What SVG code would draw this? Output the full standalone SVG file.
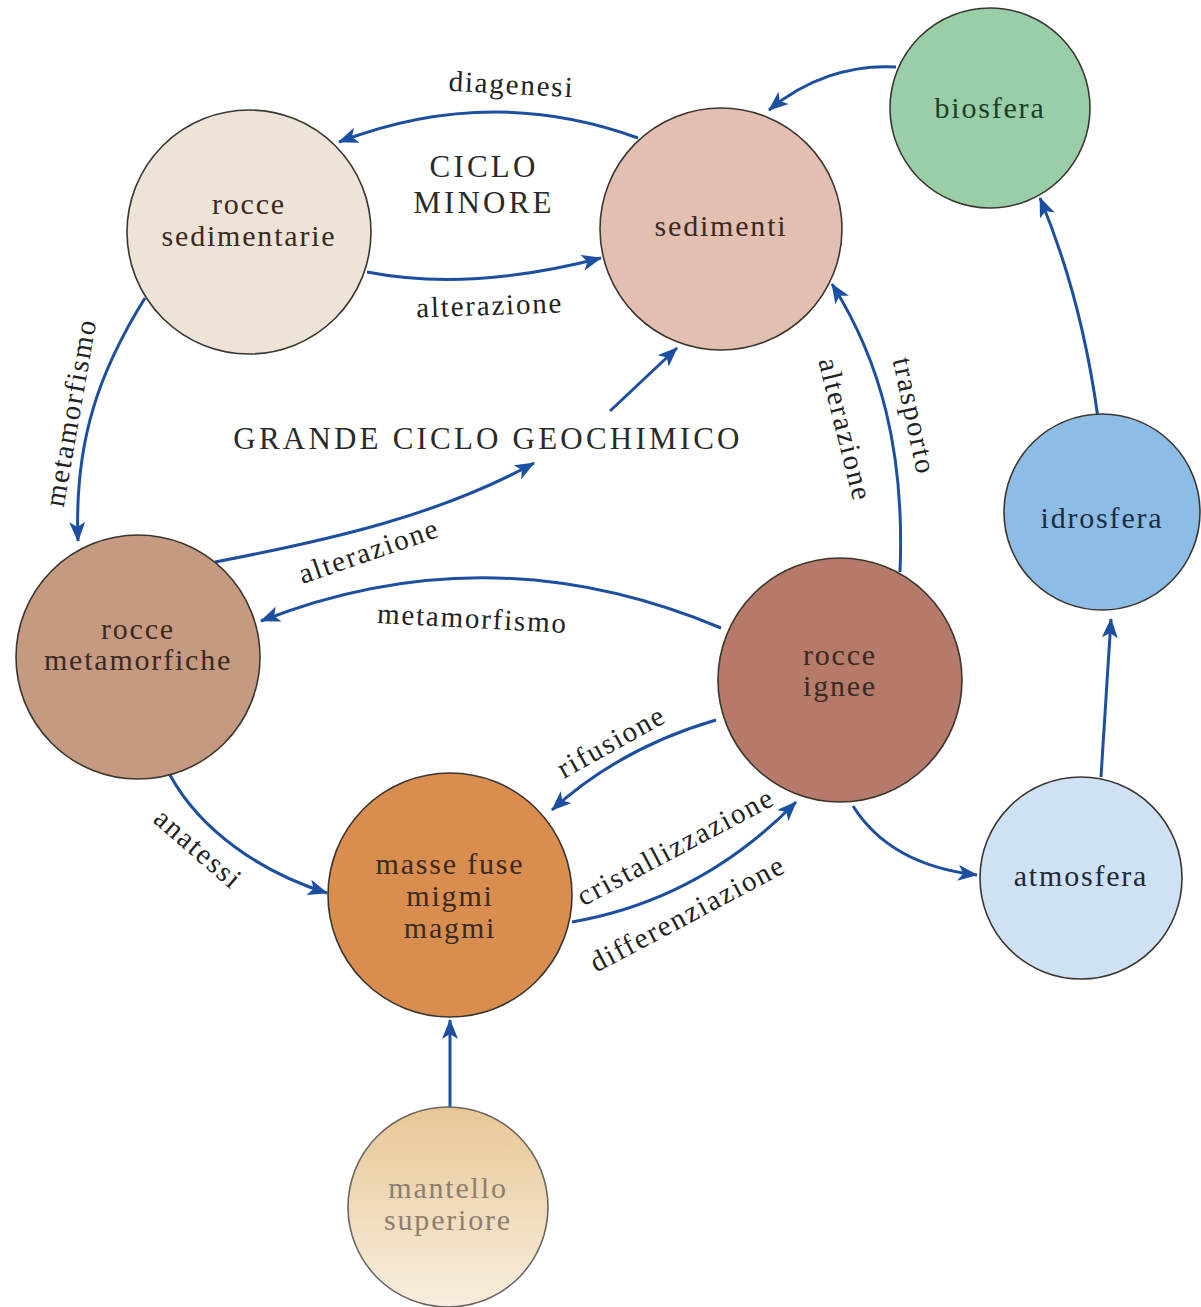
<svg xmlns="http://www.w3.org/2000/svg" width="1201" height="1307" viewBox="0 0 1201 1307">
<style>
.n{stroke:#3b3630;stroke-width:1.6}
.t{font-family:"Liberation Serif","Times New Roman",serif;font-size:30px;letter-spacing:1.8px;text-anchor:middle;fill:#3a2a22}
.e{font-family:"Liberation Serif","Times New Roman",serif;font-size:29px;letter-spacing:1.8px;text-anchor:middle;fill:#222222}
.c{font-family:"Liberation Serif","Times New Roman",serif;font-size:31px;letter-spacing:3.2px;text-anchor:middle;fill:#2a2a2a}
.a{fill:none;stroke:#1c4fa0;stroke-width:3;marker-end:url(#ah)}
</style>
<defs>
<marker id="ah" viewBox="0 0 20 16" markerWidth="20" markerHeight="16" refX="19" refY="8" orient="auto" markerUnits="userSpaceOnUse">
<path d="M0,0 L20,8 L0,16 L5,8 z" fill="#1c4fa0"/>
</marker>
<linearGradient id="gm" x1="0" y1="0" x2="0" y2="1">
<stop offset="0" stop-color="#e8c795"/>
<stop offset="1" stop-color="#f8eedf"/>
</linearGradient>
</defs>
<rect width="1201" height="1307" fill="#ffffff"/>

<g id="connectors">
<path class="a" d="M896,67 C850,64 805,80 769,110"/>
<path class="a" d="M638,138 Q490,84 339,142"/>
<path class="a" d="M367,272 Q470,292 601,258"/>
<path class="a" d="M145,298 C100,370 74,440 78,541"/>
<path class="a" d="M215,562 C330,540 440,515 534,463"/>
<path class="a" d="M610,411 L677,348"/>
<path class="a" d="M900,572 C905,450 880,360 832,284"/>
<path class="a" d="M721,628 Q490,531 261,621"/>
<path class="a" d="M170,775 C200,830 260,872 327,893"/>
<path class="a" d="M716,720 Q620,748 552,810"/>
<path class="a" d="M572,922 Q700,900 796,802"/>
<path class="a" d="M853,806 Q890,865 977,875"/>
<path class="a" d="M1101,777 L1111,619"/>
<path class="a" d="M1098,418 C1086,330 1066,260 1040,198"/>
<path class="a" d="M450,1108 L450,1020"/>
</g>

<g id="edge-labels">
<text class="e" transform="translate(511,94) rotate(3)">diagenesi</text>
<text class="e" transform="translate(490,315) rotate(-2)">alterazione</text>
<text class="e" transform="translate(80,414) rotate(-80)">metamorfismo</text>
<text class="e" transform="translate(372,560) rotate(-19)">alterazione</text>
<text class="e" transform="translate(472,628) rotate(3)">metamorfismo</text>
<text class="e" transform="translate(836,432) rotate(76)">alterazione</text>
<text class="e" transform="translate(905,418) rotate(78)">trasporto</text>
<text class="e" transform="translate(616,750) rotate(-29)">rifusione</text>
<text class="e" transform="translate(680,855) rotate(-28)">cristallizzazione</text>
<text class="e" transform="translate(692,922) rotate(-28)">differenziazione</text>
<text class="e" transform="translate(192,856) rotate(41)">anatessi</text>
</g>

<g id="cycle-labels">
<text class="c" x="484" y="177">CICLO</text>
<text class="c" x="484" y="213">MINORE</text>
<text class="c" x="488" y="449">GRANDE CICLO GEOCHIMICO</text>
</g>

<g id="biosfera">
<circle class="n" cx="990" cy="108" r="100" fill="#98cfa8"/>
<text class="t" x="990" y="118" style="fill:#1f3d2a">biosfera</text>
</g>
<g id="rocce-sedimentarie">
<circle class="n" cx="249" cy="232" r="122" fill="#ede3d6"/>
<text class="t" x="249" y="214">rocce</text>
<text class="t" x="249" y="246">sedimentarie</text>
</g>
<g id="sedimenti">
<circle class="n" cx="721" cy="229" r="121" fill="#e2bfb0"/>
<text class="t" x="721" y="236">sedimenti</text>
</g>
<g id="rocce-metamorfiche">
<circle class="n" cx="138" cy="657" r="122" fill="#c69a80"/>
<text class="t" x="138" y="639">rocce</text>
<text class="t" x="138" y="670">metamorfiche</text>
</g>
<g id="rocce-ignee">
<circle class="n" cx="840" cy="680" r="122" fill="#b57a6a"/>
<text class="t" x="840" y="665">rocce</text>
<text class="t" x="840" y="696">ignee</text>
</g>
<g id="masse-fuse">
<circle class="n" cx="450" cy="895" r="122" fill="#d98e4f"/>
<text class="t" x="450" y="874">masse fuse</text>
<text class="t" x="450" y="906">migmi</text>
<text class="t" x="450" y="938">magmi</text>
</g>
<g id="mantello-superiore">
<circle class="n" cx="448" cy="1207" r="100" fill="url(#gm)" style="stroke:#6b6660"/>
<text class="t" x="448" y="1198" style="fill:#8c7f70">mantello</text>
<text class="t" x="448" y="1230" style="fill:#8c7f70">superiore</text>
</g>
<g id="idrosfera">
<circle class="n" cx="1102" cy="512" r="98" fill="#8dbde6"/>
<text class="t" x="1102" y="528" style="fill:#1a2b44">idrosfera</text>
</g>
<g id="atmosfera">
<circle class="n" cx="1081" cy="878" r="101" fill="#cfe1f4"/>
<text class="t" x="1081" y="886" style="fill:#222a33">atmosfera</text>
</g>
</svg>
